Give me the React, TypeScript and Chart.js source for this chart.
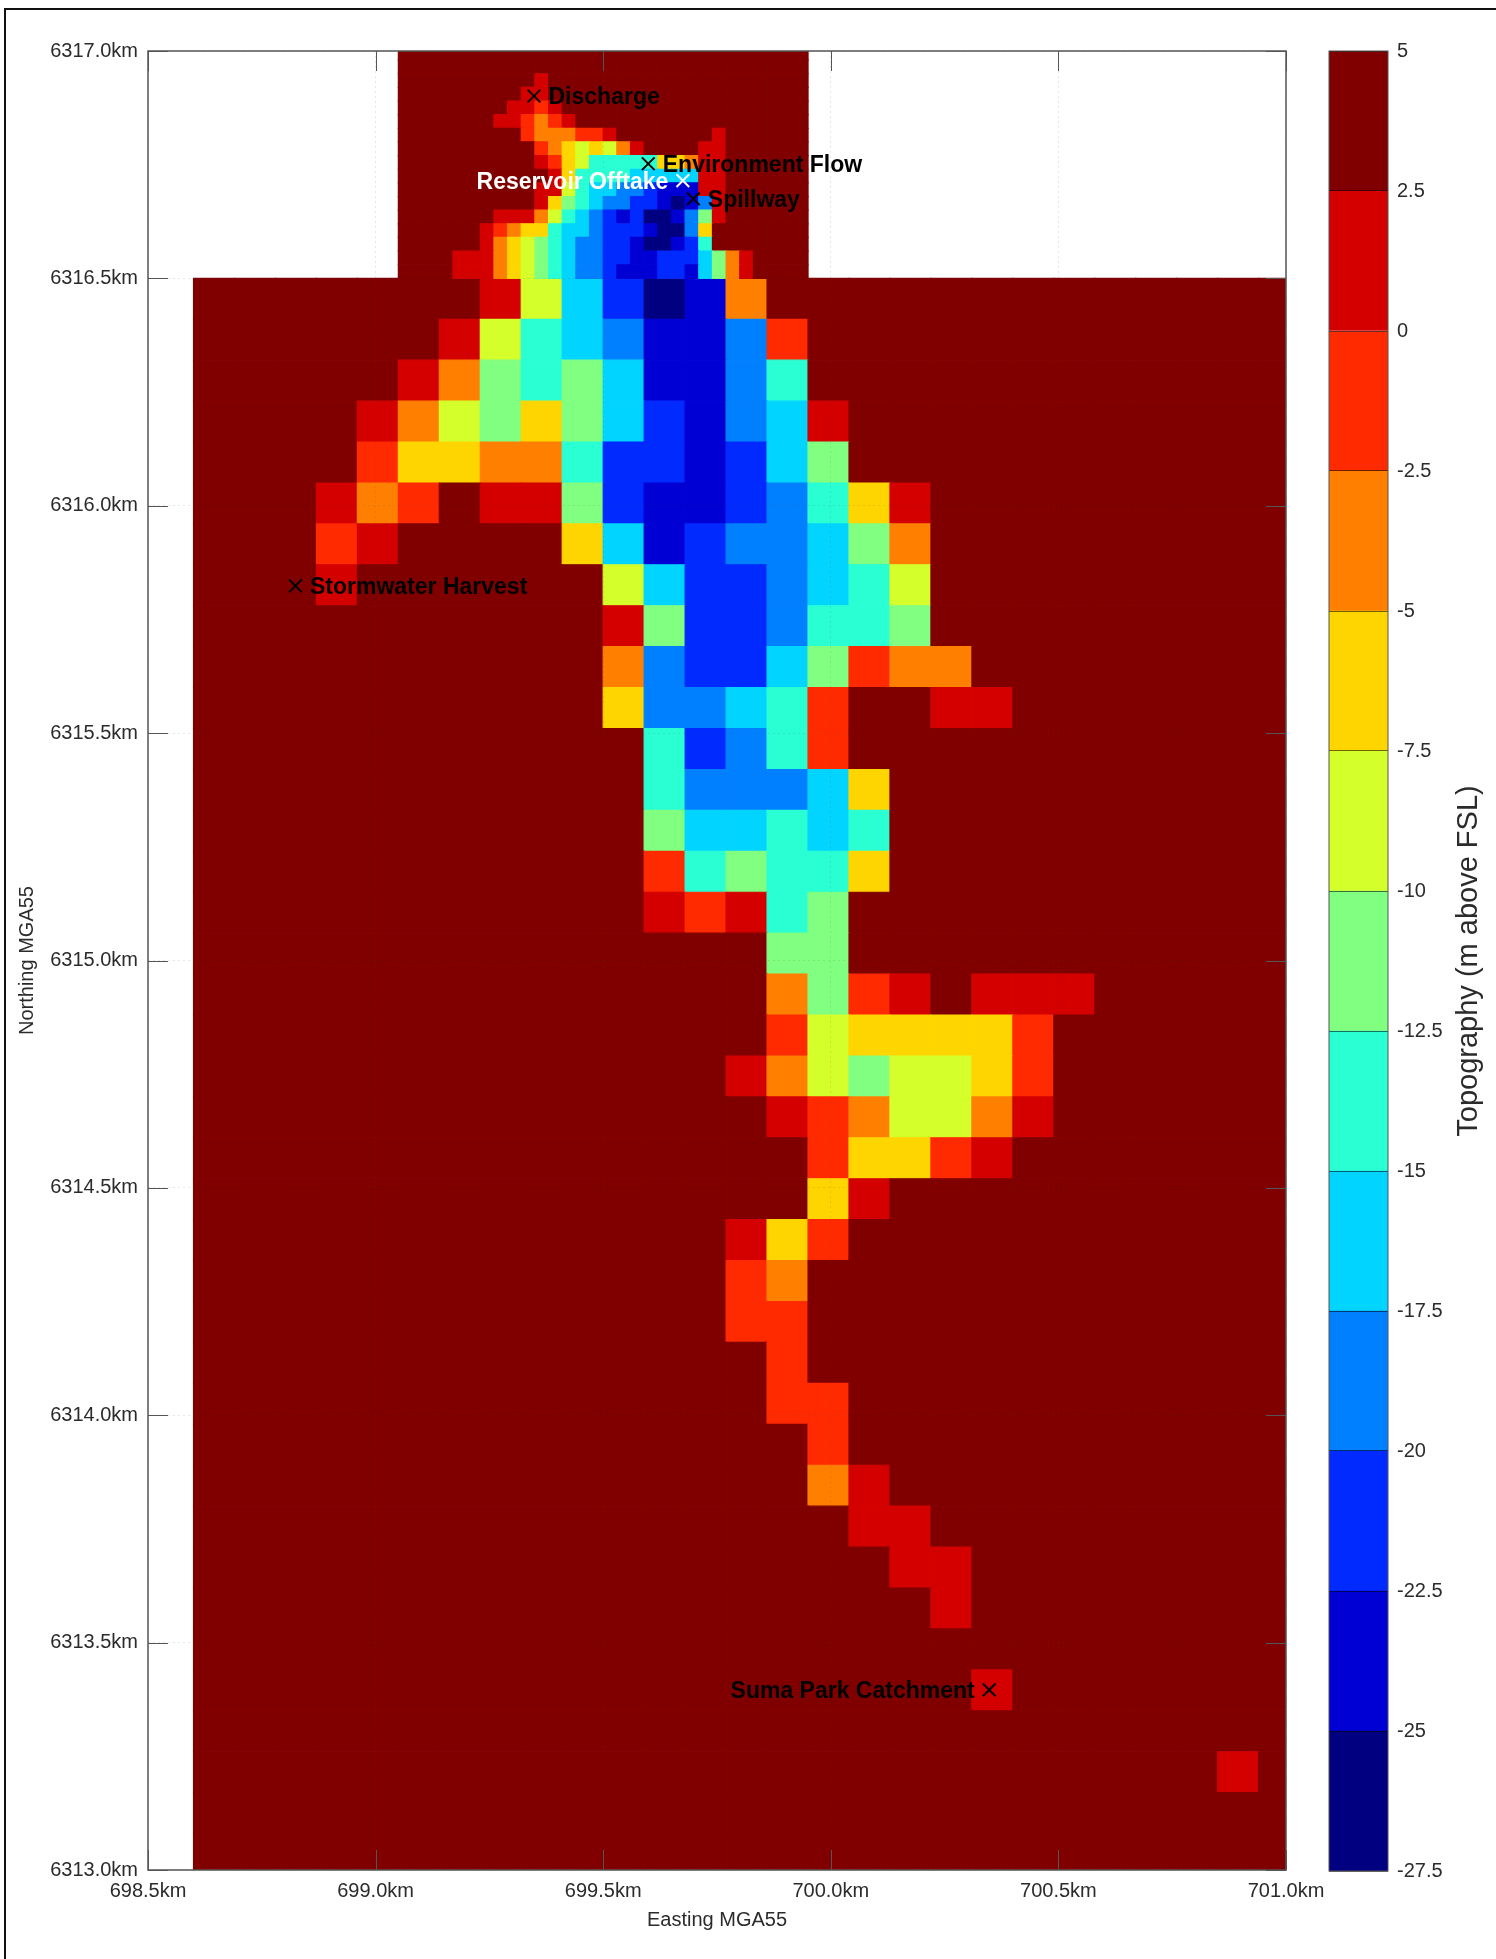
import React, { useEffect, useRef } from "react";
import { Chart, registerables } from "chart.js";

Chart.register(...registerables);

// Elevation bands of the colour bar, lowest first (m above FSL)
const bandEdges = [-27.5, -25, -22.5, -20, -17.5, -15, -12.5, -10, -7.5, -5, -2.5, 0, 2.5, 5];
const bandColours = ["#000080", "#0000d4", "#002aff", "#0080ff", "#00d4ff", "#2affd4", "#80ff80", "#d4ff2a", "#ffd500", "#ff8000", "#ff2a00", "#d40000", "#800000"];
const bandCodes = "dnbactglyorR.";
const colourTicks = [5, 2.5, 0, -2.5, -5, -7.5, -10, -12.5, -15, -17.5, -20, -22.5, -25, -27.5];

// 90 m grid: north to south from 6316.5 km, west to east from 698.6 km
const coarseRows = [
  ".......Rlcbdno.............",
  "......Rltcannar............",
  ".....Rogtgcnnat............",
  "....RolgygcbnacR...........",
  "....ryyootbbnbcg...........",
  "...Ror.RRgbnnbatyR.........",
  "...rR....ycnbaacgo.........",
  "...R......lcbbactl.........",
  "..........Rgbbattg.........",
  "..........oabbcgroo........",
  "..........yaactr..RR.......",
  "...........tbatr...........",
  "...........taaacy..........",
  "...........gcctct..........",
  "...........rtgtty..........",
  "...........RrRtg...........",
  "..............gg...........",
  "..............ogrR.RRR.....",
  "..............rlyyyyr......",
  ".............Rolgllyr......",
  "..............RrolloR......",
  "...............ryyrR.......",
  "...............yR..........",
  ".............Ryr...........",
  ".............ro............",
  ".............rr............",
  "..............r............",
  "..............rr...........",
  "...............r...........",
  "...............oR..........",
  "................RR.........",
  ".................RR........",
  "..................R........",
  "...........................",
  "...................R.......",
  "...........................",
  ".........................R.",
  "...........................",
  "...........................",
];

// 30 m grid: north to south ending at 6316.5 km, west to east from 699.05 km
const fineRows = [
  "..............................",
  "..............................",
  "..........R...................",
  ".........RR...................",
  "........RRrR..................",
  ".......RRrorR.................",
  ".........rooorrR.......R......",
  "..........roylyloR....RR......",
  "..........Rrylttttt" + "yyoRR......",
  "...........RyttttcccccRR......",
  "..........RRltccaabnnnRR......",
  "..........RygtcaabbndnaR......",
  ".......RRRoltcabnbddnagR......",
  "......Rroyytccabbbndday.......",
  "......Roylgtcaabbnddnbt.......",
  "....RRRoylgtcaabbnnbbbcgoR....",
  "....RRRoylgtcaabnnnbbncgoR....",
];

const siteNames = ["Discharge", "Environment Flow", "Reservoir Offtake", "Spillway", "Stormwater Harvest", "Suma Park Catchment"];
const siteEasting = [699.348, 699.599, 699.675, 699.698, 698.824, 700.348];
const siteNorthing = [6316.901, 6316.752, 6316.715, 6316.675, 6315.824, 6313.396];
const siteColours = ["#000000", "#000000", "#ffffff", "#000000", "#000000", "#000000"];
const siteLabelBefore = [false, false, true, false, false, true];

const FONT = '"Liberation Sans", Arial, sans-serif';
const TEXT = "#2b2b2b";

const bandMid = (code: string) => {
  const i = bandCodes.indexOf(code);
  return (bandEdges[i] + bandEdges[i + 1]) / 2;
};

function cells(rows: string[], west: number, north: number, size: number) {
  const points: { x: number; y: number; v: number }[] = [];
  const colours: string[] = [];
  rows.forEach((row, j) => {
    row.split("").forEach((code, i) => {
      points.push({ x: west + size * (i + 0.5), y: north - size * (j + 0.5), v: bandMid(code) });
      colours.push(bandColours[bandCodes.indexOf(code)]);
    });
  });
  return { points, colours };
}

const coarse = cells(coarseRows, 698.6, 6316.5, 0.09);
const fine = cells(fineRows, 699.05, 6316.5 + 0.03 * fineRows.length, 0.03);

// A "rect" point has a side of radius * sqrt(2): the cell's side comes from the x scale.
const cellRadius = (size: number) => (ctx: any) => {
  const x = ctx.chart.scales.x;
  return (x.getPixelForValue(x.min + size) - x.getPixelForValue(x.min)) / Math.SQRT2;
};

const mapFrame = {
  id: "mapFrame",
  afterDraw(chart: any) {
    const { ctx, chartArea: a, scales } = chart;
    ctx.save();
    ctx.strokeStyle = "#555555";
    ctx.lineWidth = 1;
    const len = 20;
    ctx.beginPath();
    scales.x.ticks.forEach((t: any) => {
      const px = Math.round(scales.x.getPixelForValue(t.value)) + 0.5;
      ctx.moveTo(px, a.top);
      ctx.lineTo(px, a.top + len);
      ctx.moveTo(px, a.bottom);
      ctx.lineTo(px, a.bottom - len);
    });
    scales.y.ticks.forEach((t: any) => {
      const py = Math.round(scales.y.getPixelForValue(t.value)) + 0.5;
      ctx.moveTo(a.left, py);
      ctx.lineTo(a.left + len, py);
      ctx.moveTo(a.right, py);
      ctx.lineTo(a.right - len, py);
    });
    ctx.stroke();
    ctx.lineWidth = 1.5;
    ctx.strokeRect(a.left, a.top, a.right - a.left, a.bottom - a.top);
    ctx.font = `bold 23px ${FONT}`;
    ctx.textBaseline = "middle";
    siteNames.forEach((name, i) => {
      const px = scales.x.getPixelForValue(siteEasting[i]);
      const py = scales.y.getPixelForValue(siteNorthing[i]);
      ctx.fillStyle = siteColours[i];
      ctx.textAlign = siteLabelBefore[i] ? "right" : "left";
      ctx.fillText(name, px + (siteLabelBefore[i] ? -14.5 : 14.5), py + 2);
    });
    ctx.restore();
  },
};

const barFrame = {
  id: "barFrame",
  afterDraw(chart: any) {
    const { ctx, chartArea: a } = chart;
    ctx.save();
    ctx.strokeStyle = "#555555";
    ctx.lineWidth = 1;
    ctx.strokeRect(a.left, a.top, a.right - a.left, a.bottom - a.top);
    ctx.translate(169, (a.top + a.bottom) / 2);
    ctx.rotate(-Math.PI / 2);
    ctx.font = `29px ${FONT}`;
    ctx.fillStyle = TEXT;
    ctx.textAlign = "center";
    ctx.textBaseline = "middle";
    ctx.fillText("Topography (m above FSL)", 0, 0);
    ctx.restore();
  },
};

export default function App() {
  const mapRef = useRef<HTMLCanvasElement>(null);
  const barRef = useRef<HTMLCanvasElement>(null);

  useEffect(() => {
    const grid = { color: "rgba(70,70,70,0.13)", drawTicks: false, z: 1 };
    const map = new Chart(mapRef.current!, {
      type: "scatter",
      plugins: [mapFrame],
      data: {
        datasets: [
          {
            label: "Sites",
            data: siteNames.map((_, i) => ({ x: siteEasting[i], y: siteNorthing[i] })),
            pointStyle: "crossRot",
            pointRadius: 9,
            pointBorderWidth: 2,
            pointBorderColor: siteColours,
            order: 0,
            clip: false,
          },
          {
            label: "Topography 30 m",
            data: fine.points,
            pointStyle: "rect",
            pointRadius: cellRadius(0.03),
            pointBackgroundColor: fine.colours,
            pointBorderColor: fine.colours,
            pointBorderWidth: 1.2,
            order: 1,
            clip: 0,
          },
          {
            label: "Topography 90 m",
            data: coarse.points,
            pointStyle: "rect",
            pointRadius: cellRadius(0.09),
            pointBackgroundColor: coarse.colours,
            pointBorderColor: coarse.colours,
            pointBorderWidth: 1.2,
            order: 2,
            clip: 0,
          },
        ],
      } as any,
      options: {
        animation: false,
        responsive: false,
        devicePixelRatio: 1,
        layout: { padding: { top: 51, right: 210, left: 0, bottom: 0 } },
        plugins: { legend: { display: false }, tooltip: { enabled: false } },
        events: [],
        scales: {
          x: {
            type: "linear",
            min: 698.5,
            max: 701,
            afterFit(s: any) {
              s.height = 89;
            },
            grid,
            border: { display: false, dash: [2, 3] },
            ticks: {
              stepSize: 0.5,
              autoSkip: false,
              maxRotation: 0,
              padding: 9,
              color: TEXT,
              font: { family: FONT, size: 20 },
              callback: (v: any) => Number(v).toFixed(1) + "km",
            },
            title: {
              display: true,
              text: "Easting MGA55",
              color: TEXT,
              font: { family: FONT, size: 20, lineHeight: 1.2 },
              padding: { top: 0, bottom: 27 },
            },
          },
          y: {
            type: "linear",
            min: 6313,
            max: 6317,
            afterFit(s: any) {
              s.width = 148;
            },
            grid,
            border: { display: false, dash: [2, 3] },
            ticks: {
              stepSize: 0.5,
              autoSkip: false,
              padding: 10,
              color: TEXT,
              font: { family: FONT, size: 20 },
              callback: (v: any) => Number(v).toFixed(1) + "km",
            },
            title: {
              display: true,
              text: "Northing MGA55",
              color: TEXT,
              font: { family: FONT, size: 20, lineHeight: 1.2 },
              padding: { top: 15, bottom: 0 },
            },
          },
        },
      } as any,
    });

    const bar = new Chart(barRef.current!, {
      type: "bar",
      plugins: [barFrame],
      data: {
        labels: ["Topography"],
        datasets: bandColours.map((colour, i) => ({
          label: `${bandEdges[i]} to ${bandEdges[i + 1]}`,
          data: [[bandEdges[i], bandEdges[i + 1]]],
          backgroundColor: colour,
          borderWidth: 0,
          barPercentage: 1,
          categoryPercentage: 1,
        })),
      } as any,
      options: {
        animation: false,
        responsive: false,
        devicePixelRatio: 1,
        layout: { padding: { top: 51, left: 29, right: 0, bottom: 88 } },
        plugins: { legend: { display: false }, tooltip: { enabled: false } },
        events: [],
        scales: {
          x: { stacked: true, display: false },
          y: {
            position: "right",
            min: -27.5,
            max: 5,
            afterFit(s: any) {
              s.width = 108;
            },
            afterBuildTicks(s: any) {
              s.ticks = colourTicks.map((value) => ({ value }));
            },
            grid: { color: "rgba(0,0,0,0.55)", drawTicks: false, z: 1 },
            border: { display: false },
            ticks: {
              autoSkip: false,
              padding: 9,
              color: TEXT,
              font: { family: FONT, size: 20 },
              callback: (v: any) => String(v),
            },
          },
        },
      } as any,
    });

    return () => {
      map.destroy();
      bar.destroy();
    };
  }, []);

  return (
    <div style={{ position: "absolute", left: 0, top: 0, width: 1496, height: 1959, overflow: "hidden", background: "#fff" }}>
      <div style={{ position: "absolute", left: 4, top: 8, right: 0, bottom: 0, borderLeft: "2px solid #111", borderTop: "2px solid #111" }} />
      <canvas ref={mapRef} width={1496} height={1959} style={{ position: "absolute", left: 0, top: 0, display: "block" }} />
      <canvas ref={barRef} width={196} height={1959} style={{ position: "absolute", left: 1300, top: 0, display: "block" }} />
    </div>
  );
}
